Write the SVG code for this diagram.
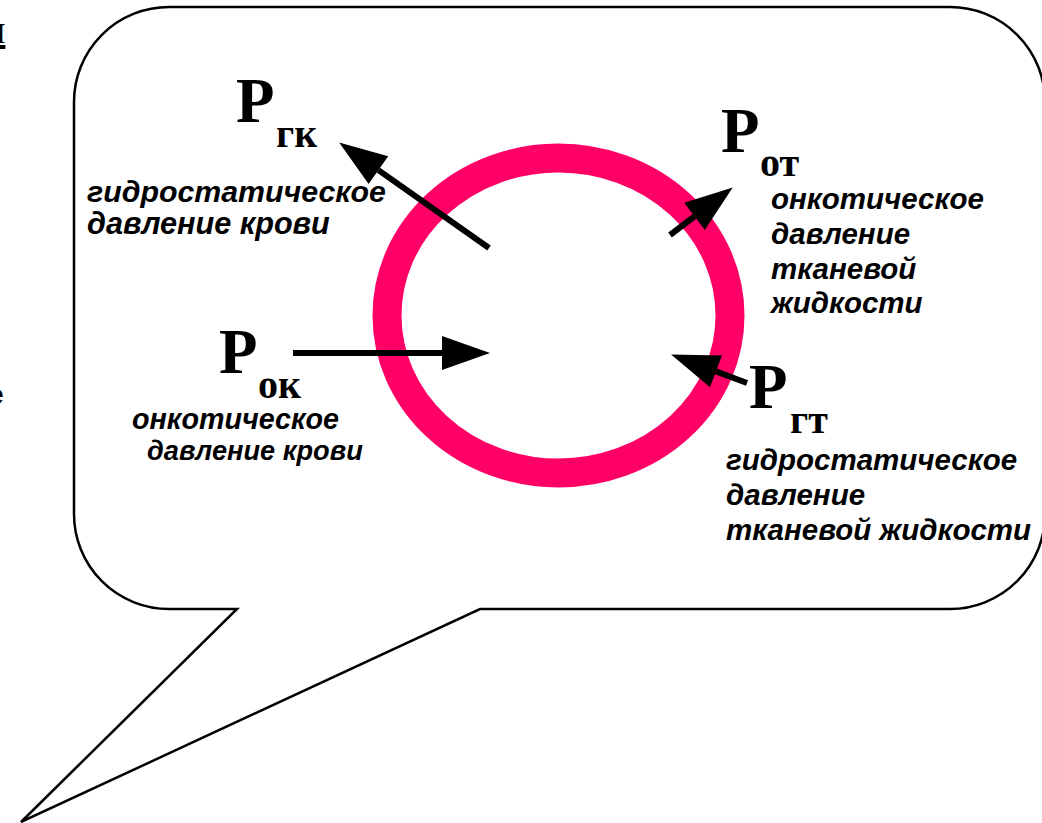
<svg xmlns="http://www.w3.org/2000/svg" width="1042" height="823" viewBox="0 0 1042 823">
<style>
.big{font-family:"Liberation Serif","Times New Roman",serif;font-weight:bold;font-size:63px;fill:#000}
.sub{font-family:"Liberation Serif","Times New Roman",serif;font-weight:bold;font-size:40px;fill:#000}
.lab{font-family:"Liberation Sans",Arial,sans-serif;font-weight:bold;font-style:italic;font-size:29.5px;fill:#000}
.frag{font-family:"Liberation Serif",serif;font-size:40px;fill:#000}
.arr{stroke:#000;stroke-width:6;fill:none;marker-end:url(#ah)}
</style>
<defs>
<marker id="ah" markerUnits="userSpaceOnUse" markerWidth="48" markerHeight="34" refX="0" refY="17" orient="auto" overflow="visible">
<path d="M0,0 L48,17 L0,34 Z" fill="#000"/>
</marker>
</defs>
<rect width="1042" height="823" fill="#fff"/>
<g id="fragments">
<text class="frag" x="-16" y="43" text-decoration="underline">н</text>
<text class="lab" x="-12" y="404" style="font-style:normal;font-size:28px">е</text>
</g>
<g id="callout">
<path d="M169 7 H950 A95 95 0 0 1 1045 102 V514 A95 95 0 0 1 950 609 H480 L21 822 L237 609 H169 A95 95 0 0 1 74 514 V102 A95 95 0 0 1 169 7 Z" fill="#fff" stroke="#000" stroke-width="2.5"/>
</g>
<g id="vessel">
<ellipse cx="558.5" cy="315.5" rx="171.5" ry="157.5" fill="none" stroke="#FF0066" stroke-width="29"/>
</g>
<g id="connectors">
<line class="arr" x1="489" y1="248" x2="378.4" y2="170.1"/>
<line class="arr" x1="293" y1="353" x2="442" y2="353"/>
<line class="arr" x1="670" y1="235" x2="694.5" y2="216.4"/>
<line class="arr" x1="747" y1="383" x2="716" y2="371.4"/>
</g>
<g id="P_gk">
<text class="big" x="236" y="122">P</text>
<text class="sub" x="276" y="147">гк</text>
<text class="lab" x="87" y="202" style="font-size:30.3px">гидростатическое</text>
<text class="lab" x="87" y="234" style="font-size:30.6px">давление крови</text>
</g>
<g id="P_ot">
<text class="big" x="721" y="152">P</text>
<text class="sub" x="760" y="176">от</text>
<text class="lab" x="771" y="209">онкотическое</text>
<text class="lab" x="771" y="244">давление</text>
<text class="lab" x="771" y="279">тканевой</text>
<text class="lab" x="771" y="313">жидкости</text>
</g>
<g id="P_ok">
<text class="big" x="219" y="373">P</text>
<text class="sub" x="258" y="398">ок</text>
<text class="lab" x="132" y="429" style="font-size:28.7px">онкотическое</text>
<text class="lab" x="147" y="460" style="font-size:27.2px">давление крови</text>
</g>
<g id="P_gt">
<text class="big" x="749" y="408">P</text>
<text class="sub" x="790" y="433">гт</text>
<text class="lab" x="726" y="470">гидростатическое</text>
<text class="lab" x="726" y="505">давление</text>
<text class="lab" x="726" y="540">тканевой жидкости</text>
</g>
</svg>
